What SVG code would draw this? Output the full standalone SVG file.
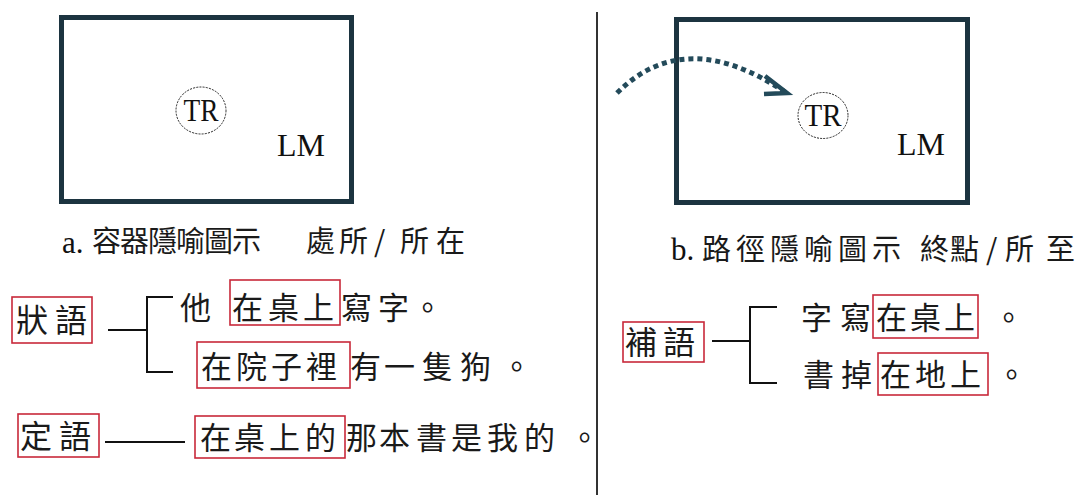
<svg xmlns="http://www.w3.org/2000/svg" width="1086" height="495" viewBox="0 0 1086 495">
<style>
.frame{fill:none;stroke:#1c3440;stroke-width:5}
.tr{fill:none;stroke:#222;stroke-width:1;stroke-dasharray:2 1.2}
.lat{font-family:"Liberation Serif",serif;fill:#111}
.cjk{font-family:"Noto Sans CJK TC","Noto Sans CJK SC",sans-serif;fill:#1a1a1a}
.red{fill:none;stroke:#c8283a;stroke-width:1.6}
.ln{fill:none;stroke:#111;stroke-width:2}
</style>
<rect width="1086" height="495" fill="#fff"/>
<line x1="597" y1="12" x2="597" y2="495" stroke="#333" stroke-width="2"/>
<g id="diagram-a">
<rect class="frame" x="61.5" y="17.5" width="290" height="184"/>
<ellipse class="tr" cx="201" cy="110.5" rx="25" ry="23.5"/>
<text class="lat" x="201" y="121" font-size="32" text-anchor="middle" textLength="35" lengthAdjust="spacingAndGlyphs">TR</text>
<text class="lat" x="277" y="156" font-size="32">LM</text>
<text class="lat" x="62" y="253" font-size="31">a.</text>
<text class="cjk" x="92 120 148 176 204 232" y="252" font-size="29">容器隱喻圖示</text>
<text class="cjk" x="306 339 374 400 436" y="252" font-size="29">處所/所在</text>
</g>
<g id="diagram-b">
<rect class="frame" x="676.5" y="19.5" width="291" height="183"/>
<ellipse class="tr" cx="823" cy="115.5" rx="25" ry="23"/>
<text class="lat" x="823" y="126" font-size="32" text-anchor="middle" textLength="37" lengthAdjust="spacingAndGlyphs">TR</text>
<text class="lat" x="897" y="155" font-size="32">LM</text>
<text class="lat" x="671" y="260" font-size="31">b.</text>
<text class="cjk" x="702 736 770 804 838 872" y="260" font-size="29">路徑隱喻圖示</text>
<text class="cjk" x="920 950 986 1005 1046" y="260" font-size="29">終點/所至</text>
</g>
<g id="connectors">
<path d="M617,93 Q685,25 785,92" fill="none" stroke="#234a5a" stroke-width="5" stroke-dasharray="5 4"/>
<path d="M765,76 L787,93 L764,94" fill="none" stroke="#234a5a" stroke-width="4.5" stroke-linejoin="miter"/>
<path class="ln" d="M108,330 H147 M173,297 H147 V372 H173"/>
<path class="ln" d="M105,442 H185"/>
<path class="ln" d="M712,341 H750 M777,307 H750 V383 H777"/>
</g>
<g id="label-zhuangyu">
<rect class="red" x="12" y="297" width="80" height="46"/>
<text class="cjk" x="16 55" y="332" font-size="32">狀語</text>
</g>
<g id="label-dingyu">
<rect class="red" x="18" y="414" width="81" height="43"/>
<text class="cjk" x="20 59" y="448" font-size="32">定語</text>
</g>
<g id="label-buyu">
<rect class="red" x="623" y="322" width="81" height="40"/>
<text class="cjk" x="625 663" y="354" font-size="32">補語</text>
</g>
<g id="sentence-a1">
<rect class="red" x="230" y="280" width="110" height="45"/>
<text class="cjk" x="180 232 268 303 341 378 412" y="319" font-size="31">他在桌上寫字。</text>
</g>
<g id="sentence-a2">
<rect class="red" x="197" y="342" width="153" height="46"/>
<text class="cjk" x="201 236 271 306 350 384 422 460 501" y="378" font-size="31">在院子裡有一隻狗。</text>
</g>
<g id="sentence-a3">
<rect class="red" x="195" y="416" width="150" height="42"/>
<text class="cjk" x="200 234 269 305 346 379 416 451 487 524 569" y="449" font-size="31">在桌上的那本書是我的。</text>
</g>
<g id="sentence-b1">
<rect class="red" x="873" y="295" width="105" height="43"/>
<text class="cjk" x="801 840 876 910 944 993" y="329" font-size="31">字寫在桌上。</text>
</g>
<g id="sentence-b2">
<rect class="red" x="878" y="353" width="110" height="42"/>
<text class="cjk" x="803 841 880 915 950 996" y="386" font-size="31">書掉在地上。</text>
</g>
</svg>
